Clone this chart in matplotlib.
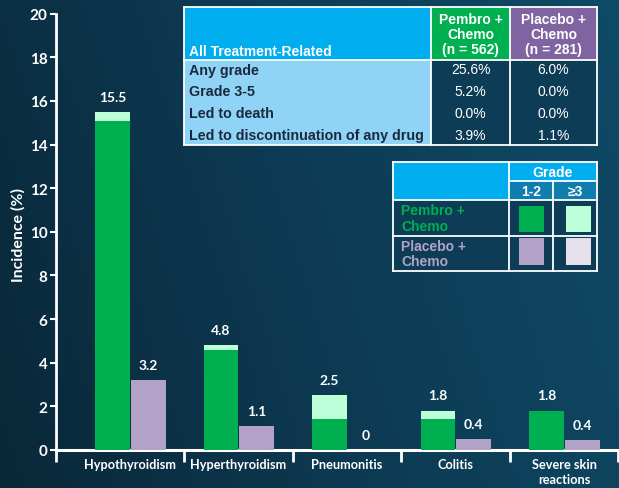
import numpy as np
import matplotlib
matplotlib.use("Agg")
import matplotlib.pyplot as plt
from matplotlib.patches import Rectangle
from matplotlib.colors import LinearSegmentedColormap

# ---------------- data ----------------
categories = ["Hypothyroidism", "Hyperthyroidism", "Pneumonitis", "Colitis", "Severe skin\nreactions"]
pembro_g12 = [15.1, 4.6, 1.4, 1.4, 1.8]
pembro_g3 = [0.4, 0.2, 1.1, 0.4, 0.0]
placebo_g12 = [3.2, 1.1, 0.0, 0.5, 0.45]
placebo_g3 = [0.0, 0.0, 0.0, 0.0, 0.0]
pembro_labels = ["15.5", "4.8", "2.5", "1.8", "1.8"]
placebo_labels = ["3.2", "1.1", "0", "0.4", "0.4"]
yticks = [0, 2, 4, 6, 8, 10, 12, 14, 16, 18, 20]

table_rows = ["Any grade", "Grade 3-5", "Led to death", "Led to discontinuation of any drug"]
table_pembro = ["25.6%", "5.2%", "0.0%", "3.9%"]
table_placebo = ["6.0%", "0.0%", "0.0%", "1.1%"]

# ---------------- colours ----------------
GREEN = "#00B050"
LGREEN = "#BDFFD8"
PURPLE = "#B3A2C7"
LPURPLE = "#E6E0EC"
CYAN = "#00AEEF"
TEAL = "#0F7DAE"
HPURPLE = "#8064A2"
LBLUE = "#8FD4F7"
DARK = "#0D3C56"

W, H = 619, 489
fig = plt.figure(figsize=(W / 100, H / 100), dpi=100)

# background gradient
bg = fig.add_axes([0, 0, 1, 1], zorder=-10)
cmap = LinearSegmentedColormap.from_list("bg", ["#0A2738", "#0D3B54", "#0F4A66"])
gx = np.linspace(0, 1, 300)
gy = np.linspace(0, 1, 200)
G = 0.8 * gx[None, :] + 0.2 * gy[:, None]
bg.imshow(G, cmap=cmap, aspect="auto", extent=[0, 1, 0, 1], origin="lower")
bg.axis("off")

def fx(x):
    return x / W

def fy(y):
    return 1 - y / H

ax_left, ax_right = 56, 619
ax_bottom, ax_top = 451, 14.7
ax = fig.add_axes([fx(ax_left), fy(ax_bottom), fx(ax_right - ax_left), (ax_bottom - ax_top) / H])
ax.patch.set_alpha(0)

unit = 108.5
xl = -(130 - ax_left) / unit
ax.set_xlim(xl, xl + (ax_right - ax_left) / unit)
ax.set_ylim(0, 20)

x = np.arange(len(categories))
bw = 0.32
gx_pos = x - 0.162
px_pos = x + 0.168
ax.bar(gx_pos, pembro_g12, bw, color=GREEN, zorder=3)
ax.bar(gx_pos, pembro_g3, bw, bottom=pembro_g12, color=LGREEN, zorder=3)
ax.bar(px_pos, placebo_g12, bw, color=PURPLE, zorder=3)
ax.bar(px_pos, placebo_g3, bw, bottom=placebo_g12, color=LPURPLE, zorder=3)

ptot = np.array(pembro_g12) + np.array(pembro_g3)
qtot = np.array(placebo_g12) + np.array(placebo_g3)
lf = dict(family="Lato", weight="bold", size=10, color="white")
for i in range(len(categories)):
    ax.annotate(pembro_labels[i], (gx_pos[i], ptot[i]), xytext=(0, 11), textcoords="offset points",
                ha="center", va="center", **lf)
    ax.annotate(placebo_labels[i], (px_pos[i], qtot[i]), xytext=(0, 11), textcoords="offset points",
                ha="center", va="center", **lf)

for s in ["top", "right"]:
    ax.spines[s].set_visible(False)
ax.spines["left"].set_color("white")
ax.spines["bottom"].set_color("white")
ax.spines["left"].set_linewidth(2)
ax.spines["bottom"].set_linewidth(2.2)

ax.set_yticks(yticks)
ax.set_yticklabels([str(v) for v in yticks], family="Lato", weight="bold", size=11, color="white")
ax.tick_params(axis="y", length=4, width=1.5, color="white", pad=2)

ax.set_xticks(x)
ax.set_xticklabels(categories, family="Lato", weight="bold", size=9.2, color="white", va="top", linespacing=1.3)
ax.tick_params(axis="x", which="major", length=0, pad=6)
ax.set_xticks([xl, 0.5, 1.5, 2.5, 3.5, 4.5], minor=True)
ax.tick_params(axis="x", which="minor", length=8.5, width=2, color="white")

fig.text(fx(18), fy(235.5), "Incidence (%)", rotation=90, ha="center", va="center",
         family="Lato", weight="bold", size=11.5, color="white")

# ---------------- tables ----------------
def rect(x0, y0, x1, y1, color, z=5):
    fig.add_artist(Rectangle((fx(x0), fy(y1)), fx(x1 - x0), (y1 - y0) / H,
                             facecolor=color, edgecolor="none", zorder=z, transform=fig.transFigure))

def hline(x0, x1, y, lw=1.3):
    fig.add_artist(plt.Line2D([fx(x0), fx(x1)], [fy(y), fy(y)], color="white", lw=lw, zorder=7,
                              transform=fig.transFigure))

def vline(x, y0, y1, lw=1.3):
    fig.add_artist(plt.Line2D([fx(x), fx(x)], [fy(y0), fy(y1)], color="white", lw=lw, zorder=7,
                              transform=fig.transFigure))

tf = "Liberation Sans"
# Table 1
c0, c1, c2, c3 = 184, 431, 510, 597
r0, r1, r2 = 8, 61, 146
rect(c0, r0, c1, r1, CYAN)
rect(c1, r0, c2, r1, GREEN)
rect(c2, r0, c3, r1, HPURPLE)
rect(c0, r1, c1, r2, LBLUE)
rect(c1, r1, c3, r2, DARK)
hline(c0, c3, r0); hline(c0, c3, r1); hline(c0, c3, r2)
vline(c0, r0, r2); vline(c1, r0, r2); vline(c2, r0, r2); vline(c3, r0, r2)
fig.text(fx(189), fy(52), "All Treatment-Related", ha="left", va="center", family=tf, weight="bold",
         size=10, color="white", zorder=8)
fig.text(fx((c1 + c2) / 2), fy(35), "Pembro +\nChemo\n(n = 562)", ha="center", va="center", family=tf,
         weight="bold", size=10, color="white", linespacing=1.12, zorder=8)
fig.text(fx((c2 + c3) / 2), fy(35), "Placebo +\nChemo\n(n = 281)", ha="center", va="center", family=tf,
         weight="bold", size=10, color="white", linespacing=1.12, zorder=8)
row_y = [70.5, 92.5, 114.5, 136.5]
for i, lab in enumerate(table_rows):
    fig.text(fx(189), fy(row_y[i]), lab, ha="left", va="center", family=tf, weight="bold", size=10.3,
             color="#1B2A3A", zorder=8)
    fig.text(fx((c1 + c2) / 2), fy(row_y[i]), table_pembro[i], ha="center", va="center", family=tf,
             size=10, color="white", zorder=8)
    fig.text(fx((c2 + c3) / 2), fy(row_y[i]), table_placebo[i], ha="center", va="center", family=tf,
             size=10, color="white", zorder=8)

# Table 2 (legend)
d0, d1, d2, d3 = 393, 509, 553, 597
e0, e1, e2, e3, e4 = 163, 182, 201, 237, 272
rect(d0, e0, d1, e2, CYAN)
rect(d1, e0, d3, e1, CYAN)
rect(d1, e1, d3, e2, TEAL)
rect(d0, e2, d3, e4, DARK)
hline(d0, d3, e0); hline(d1, d3, e1); hline(d0, d3, e2); hline(d0, d3, e3); hline(d0, d3, e4)
vline(d0, e0, e4); vline(d1, e0, e4); vline(d2, e1, e4); vline(d3, e0, e4)
fig.text(fx((d1 + d3) / 2), fy(173), "Grade", ha="center", va="center", family=tf, weight="bold",
         size=10, color="white", zorder=8)
fig.text(fx((d1 + d2) / 2), fy(191.5), "1-2", ha="center", va="center", family=tf, weight="bold",
         size=10, color="white", zorder=8)
fig.text(fx((d2 + d3) / 2), fy(191.5), "≥3", ha="center", va="center", family=tf, weight="bold",
         size=10, color="white", zorder=8)
fig.text(fx(401), fy(219), "Pembro +\nChemo", ha="left", va="center", family=tf, weight="bold",
         size=10, color=GREEN, linespacing=1.15, zorder=8)
fig.text(fx(401), fy(254.5), "Placebo +\nChemo", ha="left", va="center", family=tf, weight="bold",
         size=10, color=PURPLE, linespacing=1.15, zorder=8)
rect(519, 207, 544, 233, GREEN, z=8)
rect(566, 207, 591, 233, LGREEN, z=8)
rect(519, 239, 544, 266, PURPLE, z=8)
rect(566, 239, 591, 266, LPURPLE, z=8)

fig.savefig("out.png", dpi=100)
